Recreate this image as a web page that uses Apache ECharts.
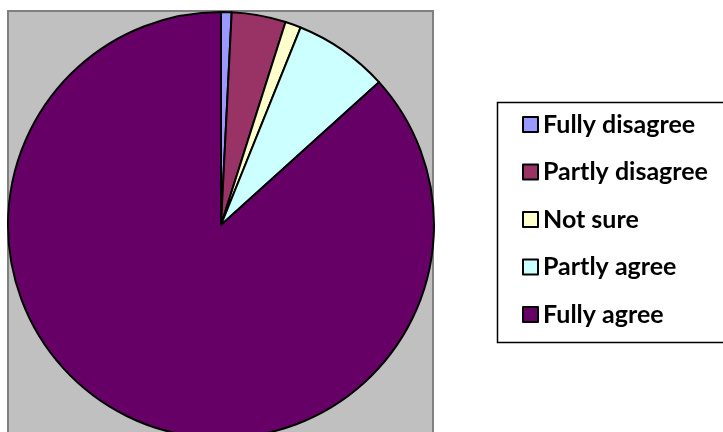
<!DOCTYPE html>
<html><head><meta charset="utf-8">
<script src="https://cdn.jsdelivr.net/npm/echarts@6/dist/echarts.min.js"></script>
<style>html,body{margin:0;padding:0;background:#fff}#c{width:723px;height:432px}</style>
</head><body><div id="c"></div>
<script>
const categories = ["Fully disagree", "Partly disagree", "Not sure", "Partly agree", "Fully agree"];
const values = [0.8, 4.1, 1.2, 7.2, 86.7];
const colors = ["#9999FF", "#993366", "#FFFFCC", "#CCFFFF", "#660066"];

const chart = echarts.init(document.getElementById('c'), null, {renderer: 'canvas'});
chart.setOption({
  animation: false,
  backgroundColor: '#ffffff',
  graphic: [
    {type: 'rect', z: -10, shape: {x: 8, y: 11, width: 425, height: 440},
     style: {fill: '#C0C0C0', stroke: '#808080', lineWidth: 2}},
    {type: 'rect', z: -10, shape: {x: 497.5, y: 102.5, width: 240, height: 240},
     style: {fill: '#ffffff', stroke: '#000000', lineWidth: 1.5}}
  ],
  legend: {
    orient: 'vertical',
    left: 522, top: 112, padding: 0,
    itemWidth: 15, itemHeight: 15, itemGap: 22.5,
    icon: 'rect',
    itemStyle: {borderColor: '#000', borderWidth: 2},
    textStyle: {fontFamily: 'Lato', fontWeight: 'bold', fontSize: 25, lineHeight: 25, color: '#000', padding: [0,0,0,0]},
    data: categories
  },
  series: [{
    type: 'pie',
    center: [221, 225],
    radius: 213,
    startAngle: 90,
    clockwise: true,
    label: {show: false},
    labelLine: {show: false},
    emphasis: {disabled: true},
    itemStyle: {borderColor: '#000', borderWidth: 2},
    data: categories.map((n, i) => ({name: n, value: values[i], itemStyle: {color: colors[i]}}))
  }]
});
</script></body></html>
